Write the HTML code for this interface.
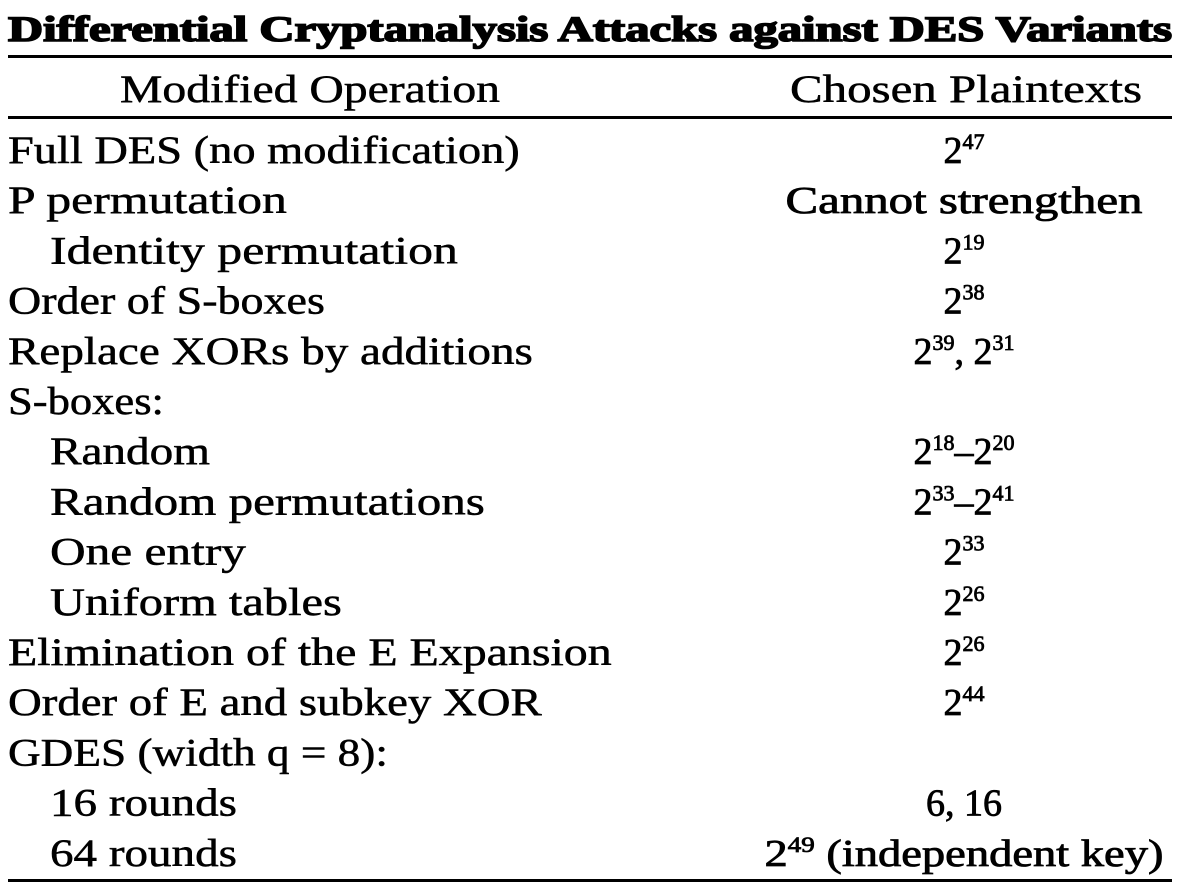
<!DOCTYPE html>
<html><head><meta charset="utf-8"><style>
html,body{margin:0;padding:0;background:#fff;width:1188px;height:896px;overflow:hidden}
svg text{font-family:"Liberation Serif",serif;fill:#000}
</style></head><body>
<svg width="1188" height="896">
<text x="8" y="41" font-size="36" font-weight="bold" stroke="#000" stroke-width="1.6" textLength="1164" lengthAdjust="spacingAndGlyphs">Differential Cryptanalysis Attacks against DES Variants</text>
<rect x="8" y="55" width="1164" height="3" fill="#000"/>
<text x="310" y="102" font-size="39" stroke="#000" stroke-width="0.5" text-anchor="middle" textLength="380" lengthAdjust="spacingAndGlyphs">Modified Operation</text>
<text x="966" y="102" font-size="39" stroke="#000" stroke-width="0.5" text-anchor="middle" textLength="352" lengthAdjust="spacingAndGlyphs">Chosen Plaintexts</text>
<rect x="8" y="116" width="1164" height="3" fill="#000"/>
<g id="rows"></g>
<rect x="8" y="879" width="1164" height="3" fill="#000"/>
</svg>
<script>
const labels=["Full DES (no modification)","P permutation","Identity permutation","Order of S-boxes","Replace XORs by additions","S-boxes:","Random","Random permutations","One entry","Uniform tables","Elimination of the E Expansion","Order of E and subkey XOR","GDES (width q = 8):","16 rounds","64 rounds"];
const indents=[0,0,1,0,0,0,1,1,1,1,0,0,0,1,1];
const widths=[512,279,408,317,525,156,160,435,196,292,604,534,380,187,187];
const values=["2^47","Cannot strengthen","2^19","2^38","2^39, 2^31","","2^18–2^20","2^33–2^41","2^33","2^26","2^26","2^44","","6, 16","2^49 (independent key)"];
const valueWidths=[0,357,0,0,0,0,0,0,0,0,0,0,0,0,399];
const g=document.getElementById('rows');
const NS="http://www.w3.org/2000/svg";
function fit(el,target,ax){
  const w=el.getComputedTextLength();
  if(w>0){const s=target/w;el.setAttribute('transform','translate('+ax+',0) scale('+s+',1) translate('+(-ax)+',0)');}
}
for(let i=0;i<labels.length;i++){
  const y=163+i*50.2;
  const t=document.createElementNS(NS,'text');
  
  
  const x=indents[i]?50:8;
  t.setAttribute('x',x);t.setAttribute('y',y);t.setAttribute('font-size','39');
  t.setAttribute('stroke','#000');t.setAttribute('stroke-width','0.5');
  t.textContent=labels[i];g.appendChild(t);
  fit(t,widths[i],x);
  if(values[i]){
    const v=document.createElementNS(NS,'text');
    
    
    const cx=964;
    v.setAttribute('x',cx);v.setAttribute('y',y);v.setAttribute('font-size','38');
    v.setAttribute('stroke','#000');v.setAttribute('stroke-width','0.8');
    v.setAttribute('text-anchor','middle');
    const parts=values[i].split(/(\^\d+)/).filter(p=>p);
    let raised=false;
    for(const p of parts){
      const s=document.createElementNS(NS,'tspan');
      if(p[0]==='^'){s.setAttribute('font-size','22');s.setAttribute('dy','-14');s.textContent=p.slice(1);raised=true;}
      else{if(raised){s.setAttribute('dy','14');raised=false;}s.textContent=p;}
      v.appendChild(s);
    }
    g.appendChild(v);
    if(valueWidths[i])fit(v,valueWidths[i],cx);
  }
}
</script>
</body></html>
